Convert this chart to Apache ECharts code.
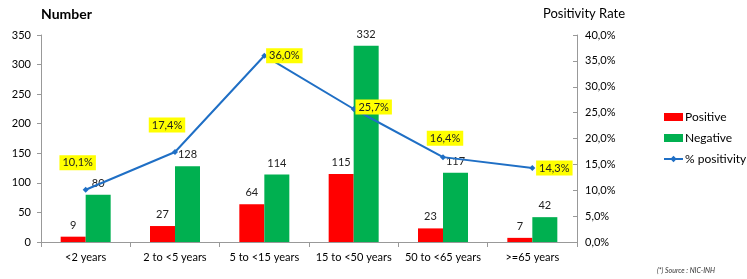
<!DOCTYPE html>
<html>
<head>
<meta charset="utf-8">
<script src="https://cdn.jsdelivr.net/npm/echarts@6/dist/echarts.min.js"></script>
<style>
  html, body { margin: 0; padding: 0; background: #fff; }
  #chart { width: 747px; height: 279px; }
</style>
</head>
<body>
<div id="chart"></div>
<script>
// age groups
const categories = ["<2 years", "2 to <5 years", "5 to <15 years", "15 to <50 years", "50 to <65 years", ">=65 years"];
const positive = [9, 27, 64, 115, 23, 7];
const negative = [80, 128, 114, 332, 117, 42];
const positivity = [10.1, 17.4, 36.0, 25.7, 16.4, 14.3];
// where each % label sits relative to its point
const pctLabelPos = [[-8, -27], [-8, -27], [20, 0], [20, -2], [2, -19], [22, 0]];

const FONT = "Lato, 'Open Sans', sans-serif";
const chart = echarts.init(document.getElementById("chart"));

const fmtPct = (v) => v.toFixed(1).replace(".", ",") + "%";

chart.setOption({
  animation: false,
  textStyle: { fontFamily: FONT },
  grid: { left: 41, right: 170, top: 35, bottom: 37 },
  title: [
    { text: "Number", left: 36, top: 2, textStyle: { fontSize: 14, fontWeight: "bold", color: "#000", fontFamily: FONT } },
    { text: "Positivity Rate", left: 538, top: 2, textStyle: { fontSize: 13, fontWeight: "normal", color: "#000", fontFamily: FONT } },
    { text: "(*) Source : NIC-INH", left: 652, top: 262, textStyle: { fontSize: 7, fontStyle: "italic", fontWeight: "normal", color: "#333", fontFamily: FONT } }
  ],
  legend: {
    orient: "vertical",
    left: 663,
    top: 111,
    width: 84,
    padding: 0,
    itemGap: 9,
    itemWidth: 19,
    itemHeight: 8,
    textStyle: { fontSize: 12, color: "#000", fontFamily: FONT, padding: [0, 0, 0, -3], overflow: "none" },
    data: [
      { name: "Positive", icon: "rect" },
      { name: "Negative", icon: "rect" },
      { name: "% positivity" }
    ]
  },
  xAxis: {
    type: "category",
    data: categories,
    axisLine: { lineStyle: { color: "#999" } },
    axisTick: { show: true, length: 5, lineStyle: { color: "#999" } },
    axisLabel: { color: "#000", fontSize: 11, margin: 10, interval: 0 }
  },
  yAxis: [
    {
      type: "value",
      min: 0, max: 350, interval: 50,
      axisLine: { show: true, lineStyle: { color: "#999" } },
      axisTick: { show: true, length: 4, lineStyle: { color: "#999" } },
      axisLabel: { color: "#000", fontSize: 11, margin: 10 },
      splitLine: { show: false }
    },
    {
      type: "value",
      min: 0, max: 40, interval: 5,
      position: "right",
      axisLine: { show: true, lineStyle: { color: "#999" } },
      axisTick: { show: true, inside: true, length: 4, lineStyle: { color: "#999" } },
      axisLabel: { color: "#000", fontSize: 11, margin: 8, formatter: (v) => v.toFixed(1).replace(".", ",") + "%" },
      splitLine: { show: false }
    }
  ],
  series: [
    {
      name: "Positive",
      type: "bar",
      data: positive,
      barWidth: 25,
      barGap: "0%",
      itemStyle: { color: "#ff0000" },
      label: { show: true, position: "top", distance: 6, color: "#222", fontSize: 11 }
    },
    {
      name: "Negative",
      type: "bar",
      data: negative,
      barWidth: 25,
      itemStyle: { color: "#00b050" },
      label: { show: true, position: "top", distance: 6, color: "#222", fontSize: 11 }
    },
    {
      name: "% positivity",
      type: "line",
      yAxisIndex: 1,
      data: positivity.map((v, i) => ({
        value: v,
        label: { offset: pctLabelPos[i] }
      })),
      symbol: "diamond",
      symbolSize: 6,
      lineStyle: { color: "#1f6fc5", width: 2 },
      itemStyle: { color: "#1f6fc5" },
      label: {
        show: true,
        position: "inside",
        formatter: (p) => fmtPct(p.value),
        backgroundColor: "#ffff00",
        padding: [2, 3],
        color: "#222",
        fontSize: 11
      },
      z: 5
    }
  ]
});
</script>
</body>
</html>
